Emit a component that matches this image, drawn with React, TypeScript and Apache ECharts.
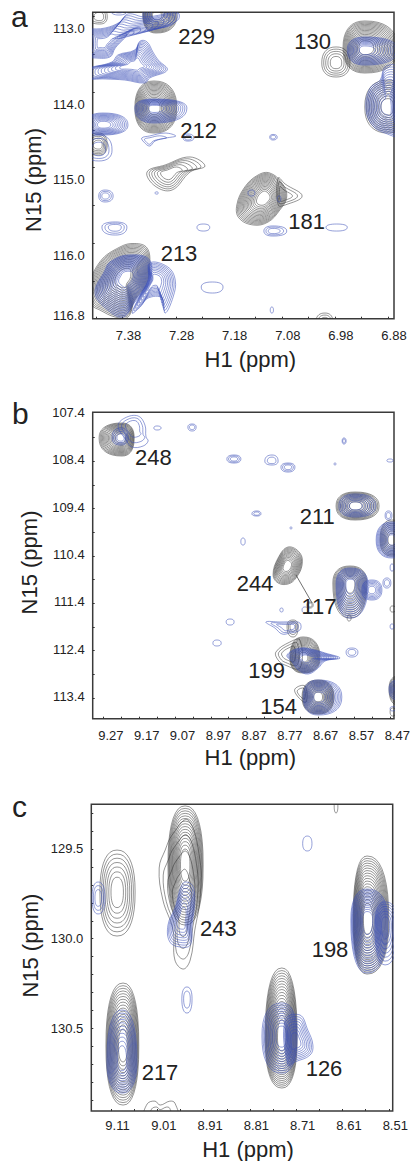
import React, { useEffect, useRef } from "react";
import * as echarts from "echarts";

// Peak rows: [H1 left, H1 right, N15 top, N15 bottom, H1 centre, N15 centre, contour levels]
type Peak = number[];
// Outline rows: [H1 centre, N15 centre, contour levels, [[H1, N15], ...]]
type Outline = [number, number, number, number[][]];

// ---------- Panel a ----------
const aXLabels = [6.88, 6.98, 7.08, 7.18, 7.28, 7.38];
const aYLabels = [113.0, 114.0, 115.0, 116.0, 116.8];
const aXTicks = [6.891, 6.941, 6.991, 7.041, 7.091, 7.141, 7.191, 7.241, 7.291, 7.341, 7.391, 7.441];
const aYTicks = [112.8, 113.3, 113.8, 114.3, 114.8, 115.3, 115.8, 116.3];
const aBlackPeaks: Peak[] = [
  [7.353, 7.289, 112.632, 113.016, 7.328, 112.778, 14],
  [7.456, 7.42, 112.685, 112.897, 7.434, 112.804, 3],
  [6.976, 6.873, 112.857, 113.546, 6.935, 113.215, 16],
  [7.016, 6.963, 113.201, 113.599, 6.989, 113.413, 5],
  [6.935, 6.859, 113.639, 114.341, 6.891, 113.996, 10],
  [7.368, 7.289, 113.652, 114.341, 7.332, 114.009, 16],
  [7.462, 7.42, 114.341, 114.632, 7.436, 114.5, 5],
  [7.027, 6.995, 116.725, 116.95, 7.01, 116.844, 3],
];
const aBlackOutlines: Outline[] = [
  [7.304, 114.87, 6, [[7.345, 114.857], [7.311, 114.764], [7.264, 114.658], [7.236, 114.778], [7.264, 114.857], [7.298, 115.096], [7.33, 115.043]]],
  [7.091, 115.175, 3, [[7.098, 114.936], [7.085, 115.016], [7.053, 115.175], [7.085, 115.294], [7.098, 115.294]]],
  [7.125, 115.201, 16, [[7.176, 115.294], [7.161, 115.056], [7.136, 114.897], [7.114, 114.87], [7.091, 115.003], [7.082, 115.188], [7.095, 115.36], [7.117, 115.519], [7.145, 115.559], [7.172, 115.466]]],
  [7.388, 116.248, 18, [[7.456, 116.42], [7.434, 116.049], [7.396, 115.85], [7.368, 115.804], [7.345, 115.864], [7.34, 116.089], [7.347, 116.354], [7.368, 116.553], [7.381, 116.778], [7.405, 116.778], [7.434, 116.685], [7.449, 116.619]]],
];
const aBluePeaks: Peak[] = [
  [7.353, 7.287, 112.645, 112.95, 7.328, 112.764, 6],
  [7.415, 7.381, 112.658, 112.778, 7.398, 112.698, 2],
  [7.462, 7.381, 114.076, 114.367, 7.428, 114.235, 10],
  [7.462, 7.411, 114.367, 114.711, 7.436, 114.566, 3],
  [7.368, 7.27, 113.89, 114.208, 7.332, 114.009, 11],
  [7.277, 7.257, 114.354, 114.447, 7.268, 114.407, 2],
  [7.114, 7.1, 114.36, 114.433, 7.108, 114.394, 2],
  [6.968, 6.873, 113.069, 113.44, 6.935, 113.241, 10],
  [7.33, 7.324, 115.12, 115.15, 7.327, 115.135, 1],
  [7.436, 7.409, 115.096, 115.254, 7.424, 115.175, 3],
  [7.43, 7.383, 115.519, 115.692, 7.405, 115.586, 3],
  [7.251, 7.227, 115.546, 115.639, 7.239, 115.59, 1],
  [7.243, 7.202, 116.314, 116.46, 7.222, 116.38, 1],
  [7.113, 7.107, 116.645, 116.725, 7.11, 116.685, 1],
  [7.125, 7.082, 115.572, 115.705, 7.108, 115.639, 3],
  [7.008, 6.968, 115.546, 115.639, 6.988, 115.59, 1],
  [7.155, 7.142, 115.096, 115.175, 7.148, 115.135, 1],
  [7.1, 7.093, 115.175, 115.254, 7.096, 115.21, 1],
];
const aBlueOutlines: Outline[] = [
  [7.428, 113.149, 10, [[7.456, 112.963], [7.424, 112.95], [7.396, 112.87], [7.381, 112.764], [7.349, 112.804], [7.287, 112.751], [7.287, 112.844], [7.321, 112.95], [7.368, 112.95], [7.387, 113.082], [7.405, 113.215], [7.415, 113.334], [7.449, 113.347], [7.462, 113.347], [7.462, 112.963]]],
  [7.368, 113.44, 12, [[7.462, 113.506], [7.411, 113.4], [7.4, 113.307], [7.368, 113.241], [7.358, 113.122], [7.345, 113.135], [7.334, 113.268], [7.324, 113.374], [7.307, 113.506], [7.34, 113.612], [7.349, 113.678], [7.387, 113.639], [7.424, 113.625], [7.462, 113.612]]],
  [7.34, 114.447, 2, [[7.355, 114.407], [7.34, 114.38], [7.311, 114.341], [7.291, 114.38], [7.309, 114.407], [7.33, 114.447], [7.34, 114.513], [7.351, 114.46]]],
  [6.893, 113.996, 12, [[6.897, 113.466], [6.876, 113.466], [6.869, 114.367], [6.897, 114.341], [6.921, 114.235], [6.933, 114.009], [6.925, 113.745], [6.906, 113.639]]],
  [7.383, 116.248, 18, [[7.381, 115.956], [7.34, 116.023], [7.343, 116.354], [7.368, 116.579], [7.39, 116.778], [7.419, 116.685], [7.443, 116.46], [7.424, 116.155], [7.415, 116.049]]],
  [7.33, 116.288, 9, [[7.34, 116.062], [7.306, 116.115], [7.292, 116.288], [7.296, 116.513], [7.311, 116.725], [7.317, 116.526], [7.343, 116.526], [7.358, 116.645], [7.373, 116.725], [7.358, 116.486], [7.343, 116.288]]],
];

// ---------- Panel b ----------
const bXLabels = [8.57, 8.67, 8.77, 8.87, 8.97, 9.07, 9.17, 9.27];
const bYLabels = [107.4, 108.4, 109.4, 110.4, 111.4, 112.4, 113.4];
const bXTicks = [8.491, 8.541, 8.591, 8.641, 8.691, 8.741, 8.791, 8.841, 8.891, 8.941, 8.991, 9.041, 9.091, 9.141, 9.191, 9.241, 9.291];
const bYTicks = [107.93, 108.43, 108.93, 109.43, 109.93, 110.43, 110.93, 111.43, 111.93, 112.43, 112.93, 113.43];
const bBlackPeaks: Peak[] = [
  [9.303, 9.205, 107.626, 108.322, 9.239, 107.942, 14],
  [8.641, 8.521, 109.082, 109.672, 8.588, 109.377, 12],
  [8.518, 8.449, 109.672, 110.432, 8.485, 110.094, 8],
  [8.722, 8.705, 111.402, 111.529, 8.714, 111.465, 2],
  [8.65, 8.555, 110.643, 111.74, 8.602, 111.001, 12],
  [8.61, 8.599, 111.677, 111.803, 8.605, 111.74, 1],
  [8.49, 8.474, 111.486, 111.613, 8.484, 111.55, 1],
  [8.778, 8.747, 111.782, 112.14, 8.761, 111.908, 3],
  [8.77, 8.686, 112.14, 112.9, 8.733, 112.584, 14],
  [8.736, 8.647, 113.048, 113.765, 8.691, 113.406, 14],
  [8.493, 8.449, 112.963, 113.575, 8.468, 113.238, 8],
  [8.49, 8.474, 113.638, 113.807, 8.483, 113.72, 1],
];
const bBlackOutlines: Outline[] = [
  [8.778, 110.643, 12, [[8.817, 110.832], [8.803, 110.474], [8.775, 110.242], [8.742, 110.368], [8.736, 110.621], [8.753, 110.896], [8.775, 111.022], [8.803, 111.001]]],
  [8.775, 112.499, 3, [[8.809, 112.457], [8.77, 112.246], [8.742, 112.204], [8.742, 112.795], [8.784, 112.731], [8.803, 112.626]]],
  [8.736, 113.322, 2, [[8.756, 113.238], [8.728, 113.175], [8.725, 113.512], [8.747, 113.406]]],
];
const bBluePeaks: Peak[] = [
  [9.267, 9.222, 107.731, 108.09, 9.242, 107.942, 4],
  [9.15, 9.13, 107.689, 107.773, 9.141, 107.73, 1],
  [9.055, 9.032, 107.647, 107.794, 9.043, 107.71, 2],
  [8.946, 8.907, 108.301, 108.47, 8.926, 108.385, 3],
  [8.84, 8.803, 108.301, 108.512, 8.82, 108.43, 2],
  [8.795, 8.756, 108.47, 108.66, 8.775, 108.555, 3],
  [8.624, 8.613, 107.942, 108.069, 8.619, 108.005, 2],
  [8.647, 8.641, 108.47, 108.51, 8.644, 108.49, 1],
  [8.499, 8.482, 108.385, 108.449, 8.49, 108.42, 1],
  [8.633, 8.53, 109.124, 109.609, 8.588, 109.377, 7],
  [8.876, 8.851, 109.482, 109.588, 8.862, 109.54, 2],
  [8.77, 8.764, 109.82, 109.86, 8.767, 109.84, 1],
  [8.907, 8.895, 110.052, 110.2, 8.901, 110.13, 1],
  [8.504, 8.485, 109.482, 109.672, 8.495, 109.58, 2],
  [8.529, 8.449, 109.714, 110.474, 8.485, 110.094, 12],
  [8.49, 8.479, 110.6, 110.748, 8.485, 110.68, 1],
  [8.641, 8.552, 110.685, 111.74, 8.602, 111.022, 11],
  [8.569, 8.513, 110.938, 111.36, 8.541, 111.149, 6],
  [8.51, 8.488, 110.896, 111.107, 8.499, 111.0, 2],
  [8.736, 8.719, 111.507, 111.634, 8.728, 111.57, 1],
  [8.49, 8.479, 111.866, 111.972, 8.485, 111.92, 1],
  [8.798, 8.789, 111.529, 111.613, 8.793, 111.57, 1],
  [8.948, 8.926, 111.761, 111.888, 8.937, 111.82, 1],
  [8.985, 8.962, 112.204, 112.33, 8.974, 112.27, 1],
  [8.613, 8.58, 112.373, 112.563, 8.597, 112.46, 2],
  [8.733, 8.625, 113.048, 113.786, 8.691, 113.406, 11],
  [8.493, 8.449, 113.048, 113.47, 8.468, 113.238, 6],
  [8.49, 8.474, 113.61, 113.7, 8.484, 113.65, 1],
];
const bBlueOutlines: Outline[] = [
  [9.208, 107.689, 3, [[9.25, 107.689], [9.231, 107.52], [9.194, 107.478], [9.175, 107.668], [9.172, 107.921], [9.166, 108.005], [9.18, 108.111], [9.211, 108.132], [9.228, 107.984]]],
  [8.775, 111.93, 3, [[8.837, 111.824], [8.798, 111.824], [8.764, 111.824], [8.742, 111.845], [8.742, 111.993], [8.77, 112.056], [8.792, 112.077], [8.812, 111.951]]],
  [8.725, 112.584, 11, [[8.778, 112.52], [8.742, 112.373], [8.7, 112.415], [8.672, 112.478], [8.63, 112.584], [8.672, 112.647], [8.691, 112.795], [8.719, 112.921], [8.747, 112.837], [8.764, 112.668]]],
];
const bLeader = [[8.753, 110.833], [8.708, 111.423]];

// ---------- Panel c ----------
const cXLabels = [8.61, 8.71, 8.81, 8.91, 9.01, 9.11];
const cYLabels = [129.5, 130.0, 130.5];
const cXTicks = [8.524, 8.574, 8.624, 8.674, 8.724, 8.774, 8.824, 8.874, 8.924, 8.974, 9.024, 9.074, 9.124];
const cYTicks = [129.3, 129.4, 129.5, 129.6, 129.7, 129.8, 129.9, 130.0, 130.1, 130.2, 130.3, 130.4, 130.5, 130.6, 130.7, 130.8, 130.9];
const cBlackPeaks: Peak[] = [
  [9.148, 9.072, 129.506, 129.985, 9.111, 129.74, 7],
  [9.001, 8.925, 129.26, 129.924, 8.964, 129.589, 16],
  [8.642, 8.634, 129.238, 129.299, 8.638, 129.26, 1],
  [8.601, 8.524, 129.539, 130.197, 8.571, 129.896, 18],
  [9.135, 9.064, 130.247, 130.927, 9.098, 130.598, 16],
  [8.791, 8.722, 130.163, 130.832, 8.755, 130.553, 18],
];
const cBlackOutlines: Outline[] = [
  [9.018, 131.0, 2, [[9.051, 131.0], [9.046, 130.921], [9.029, 130.905], [9.018, 130.927], [8.997, 130.905], [8.986, 130.916], [8.981, 131.0]]],
  [8.968, 129.84, 4, [[9.02, 129.606], [9.007, 129.506], [8.992, 129.422], [8.958, 129.338], [8.932, 129.561], [8.932, 129.784], [8.943, 129.951], [8.953, 130.119], [8.968, 130.169], [8.986, 130.119], [8.99, 129.951], [9.012, 129.784]]],
];
const cBluePeaks: Peak[] = [
  [9.165, 9.137, 129.684, 129.862, 9.152, 129.773, 3],
  [8.71, 8.69, 129.428, 129.511, 8.7, 129.47, 1],
  [8.606, 8.526, 129.723, 130.191, 8.571, 129.896, 15],
  [8.554, 8.504, 129.795, 130.146, 8.532, 129.924, 7],
  [9.133, 9.068, 130.397, 130.86, 9.1, 130.682, 11],
  [8.971, 8.949, 130.269, 130.414, 8.96, 130.335, 2],
  [8.798, 8.722, 130.358, 130.749, 8.755, 130.542, 11],
];
const cBlueOutlines: Outline[] = [
  [8.971, 129.896, 8, [[9.001, 129.924], [8.986, 129.829], [8.968, 129.69], [8.949, 129.701], [8.943, 129.784], [8.949, 129.924], [8.953, 130.035], [8.975, 130.046], [8.997, 130.018]]],
  [8.727, 130.576, 8, [[8.748, 130.453], [8.716, 130.425], [8.699, 130.509], [8.688, 130.592], [8.694, 130.648], [8.727, 130.687], [8.742, 130.704]]],
];

const GREY = "#2c2c2c";
const BLUE = "#3a4eb8";
const INK = "#222222";
const FONT = "Liberation Sans";

function ringPoints(p: Peak, r: number): number[][] {
  const [xL, xR, yT, yB, xc, yc] = p;
  const pts: number[][] = [];
  for (let i = 0; i < 36; i++) {
    const a = (i / 36) * Math.PI * 2;
    const c = Math.cos(a);
    const s = Math.sin(a);
    const ux = Math.pow(Math.abs(c), 0.85);
    const uy = Math.pow(Math.abs(s), 0.85);
    pts.push([
      xc + (c < 0 ? xL - xc : xR - xc) * ux * r,
      yc + (s < 0 ? yT - yc : yB - yc) * uy * r,
    ]);
  }
  return pts;
}

function levelRatio(k: number, n: number): number {
  return n === 1 ? 1 : 0.18 + 0.82 * Math.pow(1 - k / n, 0.8);
}

function contourSeries(peaks: Peak[], outlines: Outline[], axis: number, color: string, width: number, z: number) {
  const rows: any[] = [
    ...peaks.map((p) => ({ kind: "peak", p, value: [p[4], p[5]] })),
    ...outlines.map((o) => ({ kind: "outline", o, value: [o[0], o[1]] })),
  ];
  return {
    type: "custom",
    coordinateSystem: "cartesian2d",
    xAxisIndex: axis,
    yAxisIndex: axis,
    clip: true,
    silent: true,
    z,
    data: rows.map((r) => r.value),
    renderItem: (params: any, api: any) => {
      const row = rows[params.dataIndex];
      const children: any[] = [];
      const n = row.kind === "peak" ? row.p[6] : row.o[2];
      for (let k = 0; k < n; k++) {
        const ratio = levelRatio(k, n);
        let pts: number[][];
        if (row.kind === "peak") {
          pts = ringPoints(row.p, ratio);
        } else {
          const [xc, yc, , outline] = row.o as Outline;
          pts = outline.map(([x, y]) => [xc + (x - xc) * ratio, yc + (y - yc) * ratio]);
        }
        children.push({
          type: "polygon",
          shape: { points: pts.map((q) => api.coord(q)), smooth: row.kind === "peak" ? 0 : 0.4 },
          style: { fill: "none", stroke: color, lineWidth: width },
          silent: true,
        });
      }
      return { type: "group", children };
    },
  };
}

function xAxis(i: number, min: number, max: number, labels: number[], ticks: number[], gap: number, shift: number, margin: number) {
  return {
    type: "value",
    gridIndex: i,
    inverse: true,
    min,
    max,
    name: "H1 (ppm)",
    nameLocation: "middle",
    nameGap: gap,
    nameMoveOverlap: false,
    nameTextStyle: { fontSize: 22, color: INK, fontFamily: FONT, padding: [0, 0, 0, shift] },
    axisLine: { show: false },
    splitLine: { show: false },
    axisTick: { show: true, inside: true, length: 2, customValues: ticks, lineStyle: { color: "#333", width: 1 } },
    axisLabel: { show: true, margin, fontSize: 13, color: INK, fontFamily: FONT, customValues: labels, formatter: (v: number) => v.toFixed(2) },
  };
}

function yAxis(i: number, min: number, max: number, labels: number[], ticks: number[], gap: number, padding: number[], labelLift: number) {
  return {
    type: "value",
    gridIndex: i,
    inverse: true,
    min,
    max,
    name: "N15 (ppm)",
    nameLocation: "middle",
    nameGap: gap,
    nameMoveOverlap: false,
    nameRotate: 90,
    nameTextStyle: { fontSize: 22, color: INK, fontFamily: FONT, padding },
    axisLine: { show: false },
    splitLine: { show: false },
    axisTick: { show: true, inside: true, length: 2, customValues: ticks, lineStyle: { color: "#333", width: 1 } },
    axisLabel: {
      show: true,
      margin: 8,
      fontSize: 13,
      color: INK,
      fontFamily: FONT,
      // The printed labels sit a little above their ticks in the figure.
      customValues: labels.map((v) => Math.max(min, v - labelLift)),
      formatter: (v: number) => (v + labelLift).toFixed(1),
    },
  };
}

const peakLabels: [string, number, number][] = [
  ["229", 196.7, 36.7], ["130", 312.7, 41.7], ["212", 198.7, 130.7], ["181", 306.7, 221.7], ["213", 179, 253.3],
  ["248", 153.3, 457.7], ["211", 317.3, 516.7], ["244", 255, 583.3], ["117", 319, 606.7], ["199", 266.7, 670], ["154", 278.7, 706],
  ["243", 218.3, 928.3], ["198", 330, 949.3], ["217", 160, 1072], ["126", 324, 1068.7],
];
const panelLetters: [string, number, number][] = [["a", 11, 31.7], ["b", 12, 428.7], ["c", 12, 821.7]];
const edgeLabels: [string, number, number][] = [["8.47", 397.3, 735], ["8.51", 395.3, 1125]];

const gridBox = (left: number, top: number, width: number, height: number) => ({
  show: true,
  left,
  top,
  width,
  height,
  backgroundColor: "#fff",
  borderColor: "#3a3a3a",
  borderWidth: 1.5,
  containLabel: false,
});

export default function App() {
  const ref = useRef<HTMLDivElement>(null);
  useEffect(() => {
    const chart = echarts.init(ref.current!, undefined, { renderer: "svg" });
    chart.setOption({
      animation: false,
      backgroundColor: "#ffffff",
      grid: [gridBox(92.7, 12.3, 301.3, 306.4), gridBox(92.7, 412.3, 301.3, 306.4), gridBox(91.3, 804.3, 301.4, 306.7)],
      xAxis: [
        xAxis(0, 6.88, 7.4474, aXLabels, aXTicks, 30, 14, 10),
        xAxis(1, 8.4792, 9.3209, bXLabels, bXTicks, 28, 14, 10),
        xAxis(2, 8.5156, 9.1666, cXLabels, cXTicks, 27, 12, 8),
      ],
      yAxis: [
        yAxis(0, 112.742, 116.8, aYLabels, aYTicks, 48, [0, 29, 0, 0], 0.04),
        yAxis(1, 107.4, 113.864, bYLabels, bYTicks, 52, [0, 0, 0, 6], 0),
        yAxis(2, 129.251, 130.96, cYLabels, cYTicks, 50, [0, 0, 0, 24], 0),
      ],
      series: [
        contourSeries(aBlackPeaks, aBlackOutlines, 0, GREY, 0.5, 2),
        contourSeries(aBluePeaks, aBlueOutlines, 0, BLUE, 0.55, 3),
        contourSeries(bBlackPeaks, bBlackOutlines, 1, GREY, 0.5, 2),
        contourSeries(bBluePeaks, bBlueOutlines, 1, BLUE, 0.55, 3),
        contourSeries(cBlackPeaks, cBlackOutlines, 2, GREY, 0.5, 2),
        contourSeries(cBluePeaks, cBlueOutlines, 2, BLUE, 0.55, 3),
        {
          type: "line",
          xAxisIndex: 1,
          yAxisIndex: 1,
          data: bLeader,
          symbol: "none",
          silent: true,
          z: 4,
          lineStyle: { color: "#333", width: 0.7 },
        },
      ],
      graphic: [
        ...peakLabels.map(([text, x, y]) => ({
          type: "text", x, y, z: 10, silent: true,
          style: { text, fill: INK, fontSize: 22, fontFamily: FONT, align: "center", verticalAlign: "middle" },
        })),
        ...panelLetters.map(([text, x, y]) => ({
          type: "text", x, y, z: 10, silent: true,
          style: { text, fill: INK, fontSize: 30, fontFamily: FONT, align: "left", verticalAlign: "bottom" },
        })),
        ...edgeLabels.map(([text, x, y]) => ({
          type: "text", x, y, z: 10, silent: true,
          style: { text, fill: INK, fontSize: 13, fontFamily: FONT, align: "center", verticalAlign: "middle" },
        })),
      ],
    });
    return () => chart.dispose();
  }, []);
  return <div ref={ref} style={{ position: "absolute", left: 0, top: 0, width: 411, height: 1161 }} />;
}
